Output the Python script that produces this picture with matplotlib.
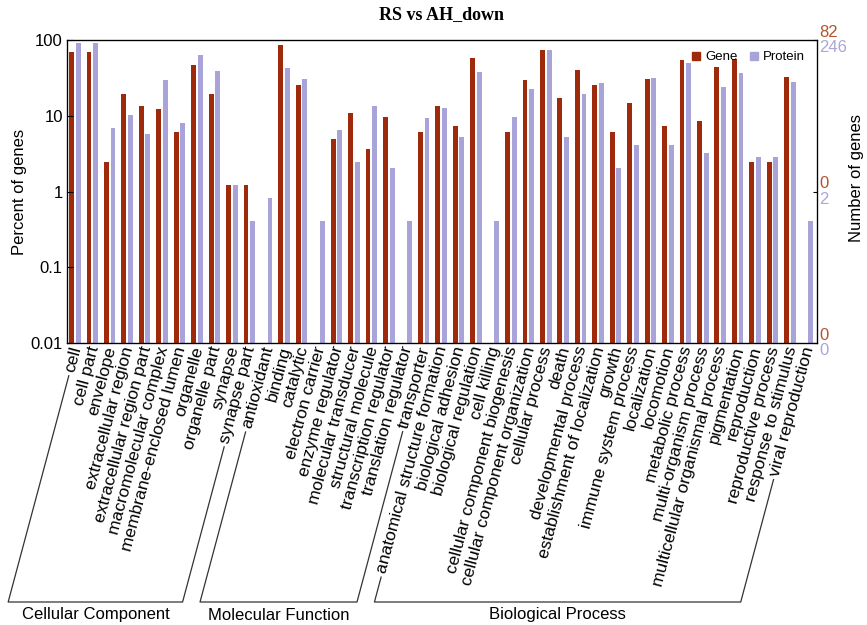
"""
GO-классификация: RS vs AH_down
Процент генов / белков по категориям (лог. шкала)
"""

import numpy as np
import matplotlib.pyplot as plt
from matplotlib.patches import Patch
from matplotlib.lines import Line2D
import matplotlib.transforms as mtransforms

plt.rcParams['font.family'] = ['Liberation Sans', 'DejaVu Sans']

# Категории по группам
cc_terms = ["cell", "cell part", "envelope", "extracellular region",
            "extracellular region part", "macromolecular complex",
            "membrane-enclosed lumen", "organelle", "organelle part",
            "synapse", "synapse part"]
mf_terms = ["antioxidant", "binding", "catalytic", "electron carrier",
            "enzyme regulator", "molecular transducer", "structural molecule",
            "transcription regulator", "translation regulator", "transporter"]
bp_terms = ["anatomical structure formation", "biological adhesion",
            "biological regulation", "cell killing",
            "cellular component biogenesis", "cellular component organization",
            "cellular process", "death", "developmental process",
            "establishment of localization", "growth", "immune system process",
            "localization", "locomotion", "metabolic process",
            "multi-organism process", "multicellular organismal process",
            "pigmentation", "reproduction", "reproductive process",
            "response to stimulus", "viral reproduction"]
group_names = ["Cellular Component", "Molecular Function", "Biological Process"]

# Число генов / белков в каждой категории
gene_counts = [57, 57, 2, 16, 11, 10, 5, 38, 16, 1, 1,
               0, 71, 21, 0, 4, 9, 3, 8, 0, 5,
               11, 6, 47, 0, 5, 24, 61, 14, 33, 21, 5, 12, 25, 6, 44, 7, 36,
               46, 2, 2, 27, 0]
protein_counts = [222, 222, 17, 25, 14, 72, 20, 155, 96, 3, 1,
                  2, 104, 76, 1, 16, 6, 33, 5, 1, 23,
                  31, 13, 93, 1, 24, 56, 179, 13, 48, 66, 5, 10, 78, 10, 123,
                  8, 59, 89, 7, 7, 68, 1]
gene_total = 82
protein_total = 246

gene_color = "#9E2A0B"
protein_color = "#A8A4DA"
gene_text_color = "#B4532E"
protein_text_color = "#A9A7D6"

categories = cc_terms + mf_terms + bp_terms
groups = [cc_terms, mf_terms, bp_terms]
n = len(categories)
gene_pct = np.array(gene_counts) / gene_total * 100
protein_pct = np.array(protein_counts) / protein_total * 100

W, H = 867, 625
fig = plt.figure(figsize=(W / 100, H / 100), dpi=100)
ax_left, ax_right, ax_top, ax_bot = 67, 817, 40, 343
ax = fig.add_axes([ax_left / W, 1 - ax_bot / H, (ax_right - ax_left) / W,
                   (ax_bot - ax_top) / H])

x = np.arange(n)
bottom = 0.01
ax.bar(x + 0.12, np.where(gene_pct > 0, gene_pct - bottom, 0), width=0.28,
       bottom=bottom, align='edge', color=gene_color, linewidth=0)
ax.bar(x + 0.5, np.where(protein_pct > 0, protein_pct - bottom, 0), width=0.28,
       bottom=bottom, align='edge', color=protein_color, linewidth=0)

ax.set_yscale('log')
ax.set_ylim(0.01, 100)
ax.set_xlim(0, n)
ax.set_yticks([0.01, 0.1, 1, 10, 100])
ax.set_yticklabels(["0.01", "0.1", "1", "10", "100"], fontsize=12)
ax.minorticks_off()
ax.set_xticks([])
ax.set_xticks(np.arange(1, n), minor=True)
ax.tick_params(axis='x', which='minor', direction='in', length=3,
               top=True, bottom=True, width=0.8)
ax.tick_params(axis='y', direction='in', length=4, pad=3)
ax.set_ylabel("Percent of genes", fontsize=12)
ax.yaxis.set_label_coords(-0.053, 0.5)
for s in ax.spines.values():
    s.set_linewidth(0.9)

# Правая ось: число генов / белков (целая часть)
ax2 = ax.twinx()
ax2.set_yscale('log')
ax2.set_ylim(0.01, 100)
ax2.set_yticks([0.01, 1, 100])
ax2.set_yticklabels([])
ax2.minorticks_off()
ax2.tick_params(axis='y', direction='in', length=3)
tr = mtransforms.blended_transform_factory(ax.transAxes, ax.transData)
for yv in [100, 1, 0.01]:
    g = str(int(gene_total * yv / 100))
    p = str(int(protein_total * yv / 100))
    ax.text(1.003, yv, g, transform=tr, va='bottom', ha='left',
            fontsize=12, color=gene_text_color)
    ax.text(1.003, yv, p, transform=tr, va='top', ha='left',
            fontsize=12, color=protein_text_color)
fig.text(856 / W, 1 - 178 / H, "Number of genes", rotation=90,
         ha='center', va='center', fontsize=12)

fig.text((ax_left + ax_right) / 2 / W, 1 - 15 / H, "RS vs AH_down",
         ha='center', va='center', fontsize=13, fontweight='bold',
         family='Liberation Serif')

handles = [Patch(color=gene_color, label="Gene"),
           Patch(color=protein_color, label="Protein")]
ax.legend(handles=handles, loc='upper right', ncol=2, frameon=False,
          fontsize=9.5, handlelength=0.6, handleheight=0.6,
          handletextpad=0.4, columnspacing=0.9, borderaxespad=0.35,
          bbox_to_anchor=(0.997, 0.995))

# Подписи категорий
theta = 75
label_texts = []
xtr = ax.get_xaxis_transform()
for i, name in enumerate(categories):
    t = ax.text(i + 0.55, -0.012, name, transform=xtr, rotation=theta,
                rotation_mode='anchor', ha='right', va='center', fontsize=12.5)
    label_texts.append(t)

# Скобки групп
fig.canvas.draw()
renderer = fig.canvas.get_renderer()
c, s = np.cos(np.radians(theta)), np.sin(np.radians(theta))
det = c * c - s * s
y_base = H - 602
gap = 4


def label_tail(t):
    bb = t.get_window_extent(renderer)
    L = (c * bb.width - s * bb.height) / det
    A = t.get_transform().transform(t.get_position())
    return A - (L + gap) * np.array([c, s])


def down_to_base(p):
    d = (p[1] - y_base) / s
    return p - d * np.array([c, s])


start = 0
for terms, gname in zip(groups, group_names):
    first = label_tail(label_texts[start])
    last = label_tail(label_texts[start + len(terms) - 1])
    b1 = down_to_base(first)
    b2 = down_to_base(last)
    xs = [first[0], b1[0], b2[0], last[0]]
    ys = [first[1], b1[1], b2[1], last[1]]
    fig.add_artist(Line2D(np.array(xs) / W, np.array(ys) / H,
                          transform=fig.transFigure, color='#333333', lw=0.9))
    fig.text((b1[0] + b2[0]) / 2 / W, 10 / H, gname, ha='center',
             va='center', fontsize=12)
    start += len(terms)

plt.savefig("out.png", dpi=100)
